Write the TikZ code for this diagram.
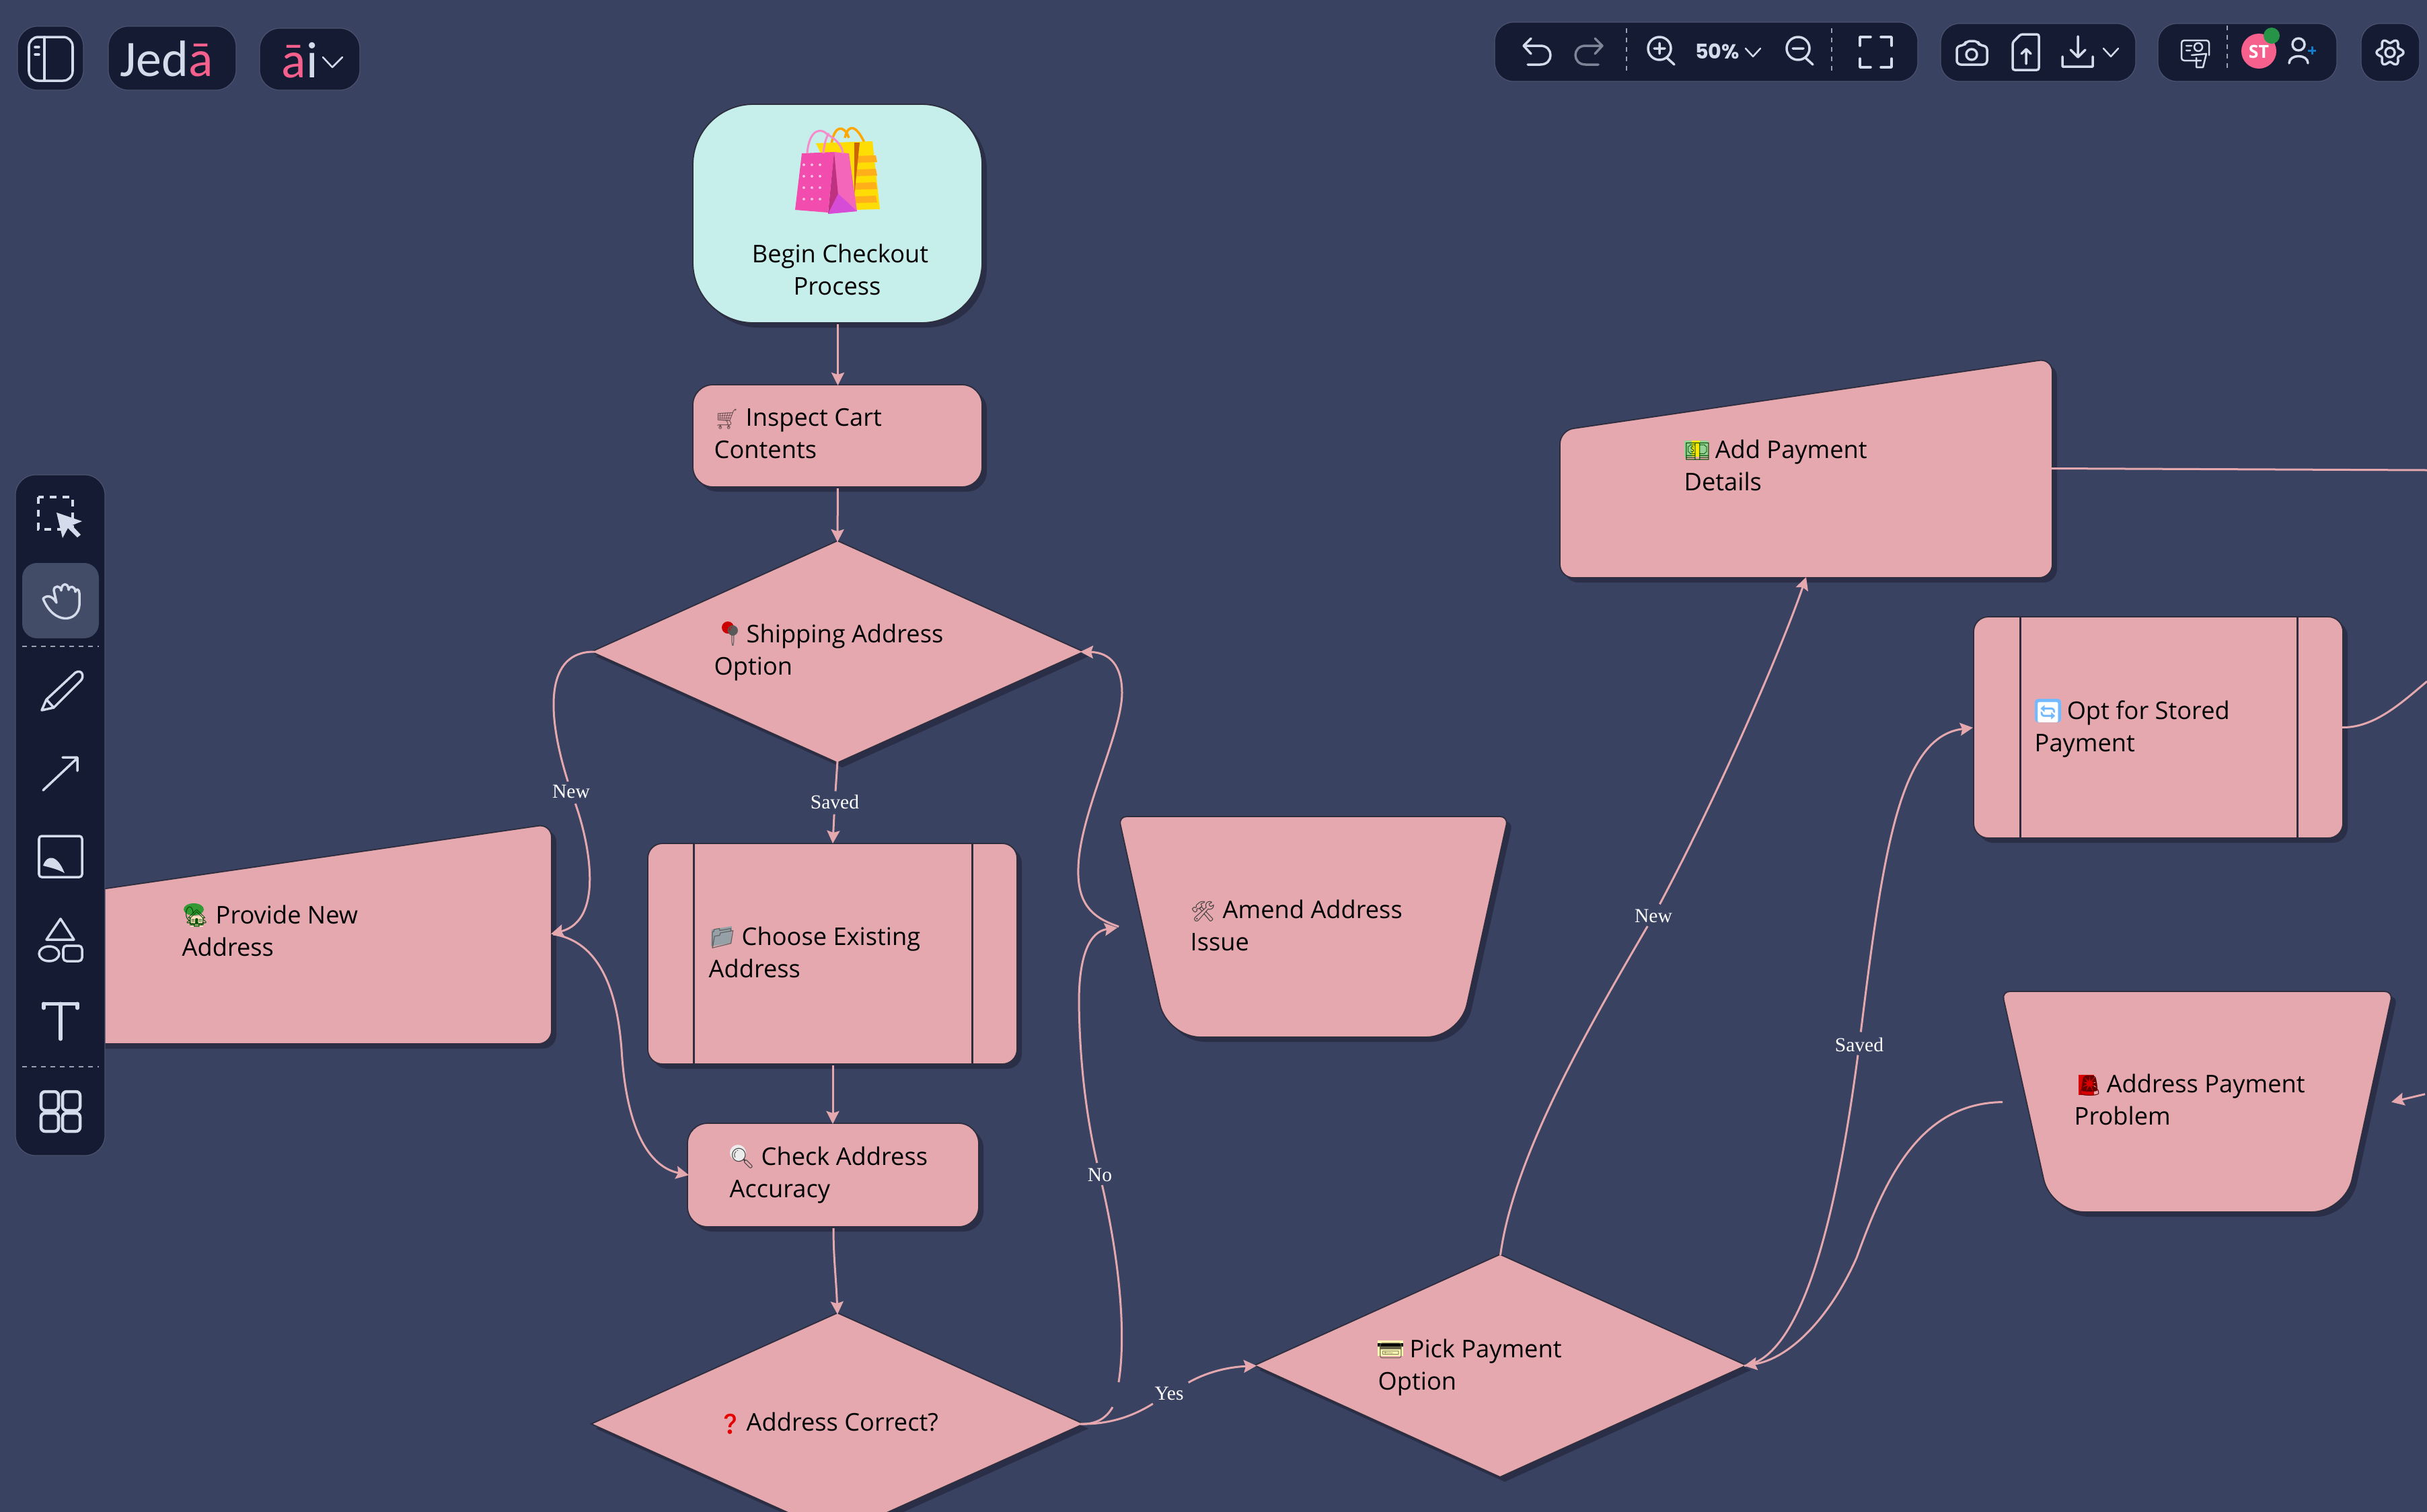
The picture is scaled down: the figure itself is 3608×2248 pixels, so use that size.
\documentclass[tikz,border=0pt]{standalone}
\usepackage{fontspec}
\usetikzlibrary{arrows.meta}
\setmainfont{Open Sans}
\newfontfamily\emojifont[Scale=0.82]{Noto Emoji}
\newfontfamily\lblfont{Liberation Serif}
\newfontfamily\logofont{Carlito}
\newfontfamily\popfont{Poppins}
\definecolor{bgc}{HTML}{394261}
\definecolor{pinkc}{HTML}{E5A8AE}
\definecolor{tealc}{HTML}{C6EFEC}
\definecolor{shadc}{HTML}{2A2E47}
\definecolor{linec}{HTML}{2E2E3E}
\definecolor{barc}{HTML}{141B33}
\definecolor{haloc}{HTML}{4A5270}
\definecolor{icoc}{HTML}{D4DBEA}
\definecolor{logoc}{HTML}{F5608D}
\definecolor{hlc}{HTML}{434C66}
\newlength\pxu \setlength\pxu{0.2845pt}
\newcommand\emo[4]{\makebox[#4\pxu][l]{\hspace*{#1\pxu}\textcolor{#2}{\emojifont #3}}}
\newcommand\sh[2][pinkc]{\path[shadowfill,shift={(7,7)}] #2;\path[shapeline,fill=#1] #2;}
\newcommand\slot[5]{\node[slotbox,minimum width={(#4-#2)*0.01cm},minimum height={(#5-#3)*0.01cm}] (#1) at ({(#2+#4)/2},{(#3+#5)/2}) {};}
\newcommand\labfont{\fontsize{10.3}{13.5}\selectfont\lineskiplimit=-20pt\relax}
\tikzset{
 shadowfill/.style={fill=shadc},
 shapeline/.style={draw=linec,line width=0.018cm},
 slotbox/.style={rectangle,inner sep=0pt,outer sep=0pt,draw=none},
 lab/.style={anchor=base west,align=left,inner sep=0pt,text=black,font=\labfont},
 edgelab/.style={inner sep=0.045cm,text=white,font=\lblfont\fontsize{8.4}{10}\selectfont},
 flow/.style={draw=pinkc,line width=0.03cm,-{Stealth[length=0.19cm,width=0.19cm,inset=0.03cm]},shorten <=0.03cm},
 flowplain/.style={draw=pinkc,line width=0.03cm},
 bar/.style={fill=barc,draw=haloc,line width=0.012cm},
 ico/.style={draw=icoc,line width=0.035cm,line cap=round,line join=round},
 icothin/.style={draw=icoc,line width=0.025cm,line cap=round,line join=round},
 dashsep/.style={draw=icoc!70!barc,line width=0.012cm,dash pattern=on 0.07cm off 0.07cm},
}
\begin{document}
\begin{tikzpicture}[x=0.01cm,y=-0.01cm]
\useasboundingbox[fill=bgc] (0,0) rectangle (3608,2248);
\begin{scope}
\clip (0,0) rectangle (3608,2248);
% ---- shapes
\sh[tealc]{[rounded corners=0.9cm] (1030,155) rectangle (1460,480)}
\slot{start}{1032}{156}{1459}{479}
\sh{[rounded corners=0.3cm] (1030,572) rectangle (1460,724)}
\slot{cart}{1032}{573}{1459}{723}
\sh{(879,969) -- (1245,804) -- (1611,969) -- (1245,1134) -- cycle}
\slot{ship}{884}{806}{1606}{1132}
\sh{[rounded corners=0.2cm] (89,1331) -- (820,1225) -- (820,1552) -- (89,1552) -- cycle}
\slot{prov}{89}{1226}{819}{1551}
\sh{[rounded corners=0.22cm] (963,1254) rectangle (1512,1582)}
\slot{choose}{964}{1254}{1512}{1581}
\draw[linec,line width=0.03cm] (1031,1254) -- (1031,1582) (1445,1254) -- (1445,1582);
\sh{[rounded corners=0.3cm] (1022,1670) rectangle (1455,1824)}
\slot{check}{1024}{1671}{1454}{1823}
\sh{(879,2117) -- (1245,1952) -- (1611,2117) -- (1245,2282) -- cycle}
\slot{correct}{884}{1954}{1606}{2280}
\sh{(1865,2030) -- (2230,1865) -- (2596,2030) -- (2230,2196) -- cycle}
\slot{pick}{1868}{1866}{2593}{2195}
\sh{[rounded corners=0.2cm] (2319,640) -- (3051,533) -- (3051,859) -- (2319,859) -- cycle}
\slot{addp}{2320}{535}{3050}{858}
\sh{[rounded corners=0.22cm] (2934,917) rectangle (3483,1246)}
\slot{stored}{2936}{918}{3482}{1245}
\draw[linec,line width=0.03cm] (3003,917) -- (3003,1246) (3415,917) -- (3415,1246);
\sh{[rounded corners=0.12cm] (1663,1214) -- (2242,1214) [rounded corners=0.5cm] -- (2170,1542) -- (1735,1542) [rounded corners=0.12cm] -- cycle}
\slot{amend}{1666}{1215}{2239}{1542}
\sh{[rounded corners=0.12cm] (2976,1474) -- (3557,1474) [rounded corners=0.5cm] -- (3486,1802) -- (3049,1802) [rounded corners=0.12cm] -- cycle}
\slot{prob}{2980}{1475}{3555}{1802}
% ---- edge labels (nodes first: curves stop at their borders)
\node[edgelab] (lnew) at (849,1177) {New};
\node[edgelab] (lsaved) at (1241,1192) {Saved};
\node[edgelab] (lno) at (1635,1747) {No};
\node[edgelab] (lyes) at (1738,2072) {Yes};
\node[edgelab] (lnew2) at (2458,1362) {New};
\node[edgelab] (lsaved2) at (2764,1553) {Saved};
\coordinate (offA) at (3608,699);
\coordinate (offB) at (3608,1013);
\coordinate (offC) at (3608,1626);
\coordinate (gapA) at (1654,2092);
\coordinate (gapB) at (1663,2055);
% ---- connectors
\draw[flow] (start.south) -- (cart.north);
\draw[flow] (cart.south) -- (ship.north);
\draw[flowplain] (ship.south) -- (lsaved);
\draw[flow] (lsaved) -- (1238,1254);
\draw[flowplain] (ship.west) .. controls (810,968) and (812,1060) .. (lnew);
\draw[flow] (lnew) .. controls (875,1250) and (900,1368) .. (prov.east);
\draw[flow] (prov.east) .. controls (895,1400) and (918,1480) .. (924,1560) .. controls (931,1680) and (965,1735) .. (check.west);
\draw[flow] (1238,1581) -- (1238,1671);
\draw[flow] (check.south) .. controls (1239,1870) and (1243,1900) .. (correct.north);
\draw[flowplain] (correct.east) .. controls (1630,2118) and (1645,2108) .. (gapA);
\draw[flowplain] (gapB) .. controls (1672,2000) and (1670,1900) .. (lno);
\draw[flow,shorten >=0.05cm] (lno) .. controls (1615,1660) and (1605,1580) .. (1604,1490) .. controls (1604,1420) and (1620,1385) .. (amend.west);
\draw[flow] (amend.west) .. controls (1625,1365) and (1601,1345) .. (1603,1290) .. controls (1605,1210) and (1668,1090) .. (1668,1030) .. controls (1668,990) and (1650,970) .. (ship.east);
\draw[flowplain] (correct.east) .. controls (1650,2118) and (1685,2105) .. (lyes);
\draw[flow] (lyes) .. controls (1785,2045) and (1815,2033) .. (pick.west);
\draw[flowplain] (pick.north) .. controls (2250,1720) and (2360,1530) .. (lnew2);
\draw[flow] (lnew2) .. controls (2560,1170) and (2650,960) .. (addp.south);
\draw[flowplain] (pick.east) .. controls (2670,2020) and (2725,1850) .. (lsaved2);
\draw[flow,shorten >=0.03cm] (lsaved2) .. controls (2800,1260) and (2825,1095) .. (stored.west);
\draw[flow] (prob.west) .. controls (2850,1640) and (2800,1760) .. (2760,1870) .. controls (2720,1960) and (2660,2020) .. (pick.east);
\draw[flowplain] (addp.east) -- (offA);
\draw[flowplain] (stored.east) .. controls (3530,1082) and (3570,1045) .. (offB);
\draw[flow] (offC) -- (prob.east);
% ---- shopping bags
\begin{scope}[line join=round]
\draw[orange!70!yellow,line width=0.035cm] (1236,215) .. controls (1240,185) and (1255,185) .. (1262,205) (1256,205) .. controls (1262,180) and (1275,190) .. (1285,212);
\fill[yellow!80!orange] (1213,213) -- (1297,210) -- (1308,311) -- (1270,312) -- (1255,300) -- cycle;
\foreach \yy in {232,252,272,292} {\fill[orange!70!yellow!90!white] (1270,\yy) -- (1302,\yy-1) -- (1304,\yy+9) -- (1270,\yy+10) -- cycle;}
\fill[orange!80!black] (1270,212) -- (1278,212) -- (1270,290) -- cycle;
\fill[magenta!70!white] (1192,228) -- (1240,226) -- (1231,316) -- (1182,312) -- cycle;
\fill[magenta!60!white] (1240,226) -- (1262,228) -- (1274,314) -- (1231,318) -- cycle;
\fill[magenta!75!black] (1240,226) -- (1246,290) -- (1231,318) -- cycle;
\fill[violet!45!magenta!70!white] (1246,288) -- (1274,314) -- (1231,318) -- cycle;
\draw[magenta!45!white,line width=0.03cm] (1200,228) .. controls (1203,190) and (1222,190) .. (1230,200) .. controls (1240,205) and (1252,215) .. (1253,228) (1224,228) .. controls (1225,215) and (1228,205) .. (1232,198);
\foreach \xx in {1195,1207,1219} \foreach \yy in {245,262,279,296} {\fill[white!75!magenta] (\xx,\yy) circle (2);}
\end{scope}
% ---- colour under the icons
\fill[red!80!black] (1082,933) circle (9);
\fill[gray!60!cyan!50!black!60!white] (1058,1382) -- (1088,1377) -- (1087,1402) -- (1057,1407) -- cycle;
\fill[green!50!black!80!white] (288,1352) ellipse (15 and 9);
\fill[orange!25!white] (283,1362) -- (302,1362) -- (302,1378) -- (283,1378) -- cycle;
\fill[white!85!gray] (1097,1714) circle (12);
\fill[yellow!30!white] (2048,1993) rectangle (2086,2016);
\fill[black] (2048,1997) rectangle (2086,2002);
\fill[gray!60!green!60!white] (2504,655) rectangle (2539,679);
\fill[yellow!90!orange] (2515,655) rectangle (2527,679);
\fill[blue!50!cyan!55!white,rounded corners=0.05cm] (3025,1039) rectangle (3064,1074);
\fill[red!85!black] (3090,1598) rectangle (3113,1628);
% ---- node texts
\node[lab,anchor=base,align=center] (tstart) at (1249,438) {Begin Checkout\\Process\hspace*{2.6pt}};
\node[lab] (tcart) at (1061,681) {\emo{0}{pinkc!50!black}{🛒}{47}Inspect Cart\\Contents};
\node[lab] (tship) at (1061,1003) {\emo{9}{gray!70!black}{📍}{48}Shipping Address\\Option};
\node[lab] (tchoose) at (1053,1453) {\emo{2}{gray!70!black}{📁}{49}Choose Existing\\Address};
\node[lab] (tprov) at (270,1421) {\emo{2}{green!30!black}{🏡}{50}Provide New\\Address};
\node[lab] (tcheck) at (1084,1780) {\emo{0}{gray!50!black}{🔍}{47}Check Address\\Accuracy};
\node[lab] (tcorrect) at (1064,2127) {\emo{2}{red!90!black}{❓}{45}Address Correct?};
\node[lab] (tamend) at (1769,1413) {\emo{0}{gray!50!black}{🛠}{48}Amend Address\\Issue};
\node[lab] (tpick) at (2048,2066) {\emo{0}{yellow!30!black}{💳}{47}Pick Payment\\Option};
\node[lab] (tadd) at (2503,729) {\emo{1}{black!70!green}{💵}{46}Add Payment\\Details};
\node[lab] (tstored) at (3024,1117) {\emo{1}{white}{🔄}{48}Opt for Stored\\Payment};
\node[lab] (tprob) at (3083,1672) {\emo{4}{red!40!black}{🚨}{48}Address Payment\\Problem};
% ---- top left
\path[bar,rounded corners=0.3cm] (26,39) rectangle (124,134);
\draw[ico,rounded corners=0.14cm] (43,55) rectangle (108,120);
\draw[ico] (66,55) -- (66,120) (52,70) -- (58,70) (52,81) -- (58,81);
\path[bar,rounded corners=0.3cm] (161,39) rectangle (351,134);
\node[anchor=base west,inner sep=0pt,font=\logofont\fontsize{21.6}{24}\selectfont] (logo) at (178,113) {\textcolor{icoc}{Jed}\textcolor{logoc}{ā}};
\path[bar,rounded corners=0.3cm] (386,42) rectangle (535,134);
\node[anchor=base west,inner sep=0pt,font=\logofont\fontsize{21.6}{24}\selectfont] (logoai) at (418,115) {\textcolor{logoc}{ā}\textcolor{icoc}{i}};
\draw[icothin] (480,85) -- (494,100) -- (509,85);
% ---- top right
\path[bar,rounded corners=0.28cm] (2222,33) rectangle (2851,121);
\path[bar,rounded corners=0.28cm] (2885,35) rectangle (3175,121);
\path[bar,rounded corners=0.28cm] (3208,35) rectangle (3474,121);
\path[bar,rounded corners=0.28cm] (3510,35) rectangle (3597,121);
% undo / redo
\draw[ico] (2276,57) -- (2265,68) -- (2276,80) (2265,68) -- (2290,68) .. controls (2310,68) and (2310,96) .. (2290,96) -- (2271,96);
\draw[ico,draw=icoc!55!barc] (2371,57) -- (2382,68) -- (2371,80) (2382,68) -- (2357,68) .. controls (2337,68) and (2337,96) .. (2357,96) -- (2376,96);
\draw[dashsep] (2418,42) -- (2418,106) (2723,42) -- (2723,106) (3311,38) -- (3311,108);
\draw[ico] (2467,72) circle (17) (2478,86) -- (2489,96) (2459,72) -- (2475,72) (2467,64) -- (2467,80);
\node[inner sep=0pt,text=icoc,font=\popfont\bfseries\fontsize{8.6}{10}\selectfont] (zoomtxt) at (2553,76) {50\%};
\draw[icothin] (2595,72) -- (2606,84) -- (2617,72);
\draw[ico] (2673,72) circle (17) (2684,86) -- (2695,96) (2665,72) -- (2681,72);
\draw[ico] (2765,68) -- (2765,55) -- (2781,55) (2796,55) -- (2812,55) -- (2812,68) (2812,87) -- (2812,100) -- (2796,100) (2781,100) -- (2765,100) -- (2765,87);
% camera, file, download
\draw[ico,rounded corners=0.06cm] (2909,68) -- (2920,68) -- (2923,61) -- (2940,61) -- (2943,68) -- (2954,68) -- (2954,96) -- (2909,96) -- cycle;
\draw[ico] (2931,81) circle (8);
\draw[ico,rounded corners=0.03cm] (3004,51) -- (3031,51) -- (3031,104) -- (2992,104) -- (2992,63) -- cycle;
\draw[ico] (3012,95) -- (3012,73) (3005,80) -- (3012,73) -- (3019,80);
\draw[ico] (3089,54) -- (3089,85) (3078,74) -- (3089,85) -- (3100,74) (3066,84) -- (3066,99) -- (3111,99) -- (3111,84);
\draw[icothin] (3127,72) -- (3138,84) -- (3149,72);
% presenter
\draw[icothin,rounded corners=0.04cm] (3272,90) -- (3243,90) -- (3243,60) -- (3284,60) -- (3284,82);
\draw[icothin] (3268,70) circle (6) (3250,68) -- (3258,68) (3250,75) -- (3256,75) (3258,82) -- (3280,80) -- (3275,100) -- (3265,100) -- (3265,86);
% avatar
\fill[logoc] (3358,76) circle (26);
\fill[green!50!black!70!teal!85!white] (3377,53) circle (12);
\node[inner sep=0pt,text=white,font=\bfseries\fontsize{7.6}{8}\selectfont] (avatar) at (3358,77) {ST};
\draw[ico] (3417,66) circle (9) (3403,94) .. controls (3403,80) and (3431,80) .. (3431,94);
\draw[draw=cyan!60!blue,line width=0.03cm] (3431,75) -- (3443,75) (3437,69) -- (3437,81);
% gear
\draw[ico] plot[domain=0:360,samples=73,smooth] ({3553+(17+3*cos(6*\x))*cos(\x)},{78+(17+3*cos(6*\x))*sin(\x)});
\draw[ico] (3553,78) circle (7);
% ---- left toolbar
\path[bar,rounded corners=0.3cm] (23,706) rectangle (156,1718);
\fill[hlc,rounded corners=0.22cm] (33,837) rectangle (147,949);
\draw[dashsep] (33,961) -- (147,961) (33,1586) -- (147,1586);
% select
\draw[icoc,line width=0.045cm,dash pattern=on 0.1cm off 0.09cm] (57,739) rectangle (108,787);
\fill[icoc] (84,762) -- (122,775) -- (107,781) -- (120,795) -- (115,799) -- (101,785) -- (93,800) -- cycle;
% hand
\draw[ico] (64,890) .. controls (70,884) and (78,886) .. (84,896) -- (80,878) .. controls (80,870) and (90,870) .. (91,878) .. controls (91,866) and (102,866) .. (102,877) .. controls (103,870) and (112,871) .. (112,880) .. controls (113,874) and (118,876) .. (118,882) -- (118,900) .. controls (116,925) and (80,930) .. (64,890) -- cycle;
% pencil
\draw[ico] (62,1056) -- (69,1040) -- (112,1000) .. controls (122,994) and (126,1006) .. (120,1012) -- (80,1052) -- cycle (69,1040) -- (80,1052);
% arrow
\draw[ico] (64,1175) -- (114,1128) (93,1126) -- (115,1126) -- (115,1146);
% image
\draw[ico,rounded corners=0.04cm] (58,1243) rectangle (122,1304);
\fill[icoc] (64,1287) .. controls (70,1270) and (85,1270) .. (96,1298) .. controls (85,1292) and (75,1290) .. (64,1287) -- cycle;
% shapes
\draw[ico] (90,1366) -- (110,1397) -- (69,1397) -- cycle (73,1418) ellipse (15 and 11);
\draw[ico,rounded corners=0.05cm] (94,1406) rectangle (122,1429);
% T
\draw[ico,line width=0.05cm] (65,1492) -- (115,1492) (90,1492) -- (90,1545) (65,1492) -- (65,1499) (115,1492) -- (115,1499);
% grid
\draw[ico,line width=0.045cm,rounded corners=0.06cm] (61,1623) rectangle (87,1651) (93,1623) rectangle (119,1651) (61,1655) rectangle (87,1682) (93,1655) rectangle (119,1682);
\end{scope}
\end{tikzpicture}
\end{document}
